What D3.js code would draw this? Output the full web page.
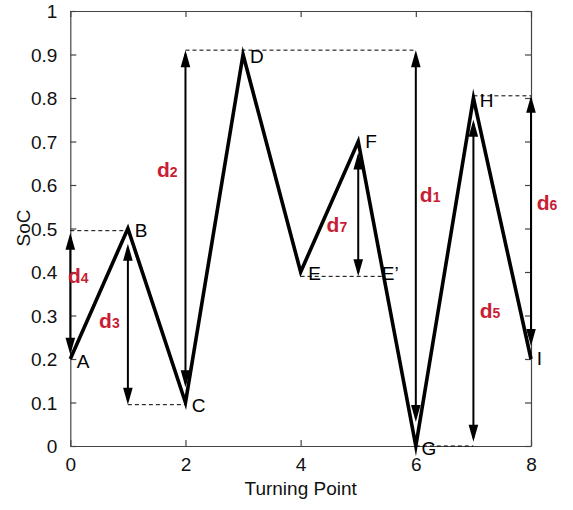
<!DOCTYPE html>
<html><head><meta charset="utf-8">
<script src="https://cdn.jsdelivr.net/npm/d3@7"></script>
<style>body{margin:0;background:#fff}svg{display:block}text{font-family:"Liberation Sans",Arial,sans-serif}</style>
</head><body><svg id="c" width="573" height="510"></svg>
<script>
// Turning points
const tpX = [0, 1, 2, 3, 4, 5, 6, 7, 8];
const soc = [0.2, 0.5, 0.1, 0.9, 0.4, 0.7, 0, 0.8, 0.2];
// Point labels (anchor in data coords)
const ptLabels = ["A", "B", "C", "D", "E", "E\u2019", "F", "G", "H", "I"];
const ptLabelX = [0.11, 1.12, 2.11, 3.12, 4.13, 5.41, 5.12, 6.1, 7.11, 8.1];
const ptLabelY = [0.18, 0.48, 0.078, 0.88, 0.382, 0.382, 0.685, -0.02, 0.78, 0.186];
// Double arrows
const arrowNames = ["1", "2", "3", "4", "5", "6", "7"];
const arrowX = [6, 2, 1, 0, 7, 8, 5];
const arrowTop = [0.91, 0.91, 0.465, 0.49, 0.75, 0.805, 0.675];
const arrowBot = [0.055, 0.135, 0.095, 0.21, 0.01, 0.23, 0.39];
const arrowLabelX = [6.07, 1.505, 0.5, -0.04, 7.11, 8.1, 4.45];
const arrowLabelY = [0.562, 0.618, 0.271, 0.375, 0.294, 0.543, 0.493];
// Dashed guide lines
const dashY = [0.495, 0.095, 0.91, 0.39, 0.805, 0];
const dashX1 = [0, 1, 2, 4, 7, 6];
const dashX2 = [1, 2, 6, 5.44, 8, 7];
// Ticks
const xTicks = [0, 2, 4, 6, 8];
const yTicks = [0, 0.1, 0.2, 0.3, 0.4, 0.5, 0.6, 0.7, 0.8, 0.9, 1];
const yTickLabels = ["0", "0.1", "0.2", "0.3", "0.4", "0.5", "0.6", "0.7", "0.8", "0.9", "1"];

const L = 70.3, R = 531, T = 11, B = 446;
const x = d3.scaleLinear().domain([0, 8]).range([L, R]);
const y = d3.scaleLinear().domain([0, 1]).range([B, T]);
const svg = d3.select("#c");
const axisCol = "#444";
const red = "#c81e35";

// axes with inward ticks
const gB = svg.append("g").attr("transform", `translate(0,${B})`)
  .call(d3.axisBottom(x).tickValues(xTicks).tickSizeInner(-6).tickSizeOuter(0).tickPadding(12).tickFormat(d3.format("d")));
const gT = svg.append("g").attr("transform", `translate(0,${T})`)
  .call(d3.axisTop(x).tickValues(xTicks).tickSizeInner(-6).tickSizeOuter(0).tickFormat(""));
const gL = svg.append("g").attr("transform", `translate(${L},0)`)
  .call(d3.axisLeft(y).tickValues(yTicks).tickSizeInner(-6).tickSizeOuter(0).tickPadding(13).tickFormat((d, i) => yTickLabels[i]));
const gR = svg.append("g").attr("transform", `translate(${R},0)`)
  .call(d3.axisRight(y).tickValues(yTicks).tickSizeInner(-6).tickSizeOuter(0).tickFormat(""));
[gB, gT, gL, gR].forEach(g => {
  g.select(".domain").attr("stroke", axisCol).attr("stroke-width", 1.2);
  g.selectAll(".tick line").attr("stroke", axisCol).attr("stroke-width", 1.2);
  g.selectAll(".tick text").attr("fill", "#111").style("font-size", "19px").style("font-family", '"Liberation Sans",Arial,sans-serif');
});
gB.selectAll(".tick text").attr("dy", "0.71em");
gL.selectAll(".tick text").attr("dy", "0.36em");

// dashed lines
svg.append("g").selectAll("line").data(dashY).join("line")
  .attr("x1", (d, i) => x(dashX1[i])).attr("x2", (d, i) => x(dashX2[i]))
  .attr("y1", d => y(d)).attr("y2", d => y(d))
  .attr("stroke", "#000").attr("stroke-width", 1).attr("stroke-dasharray", "4,3");

// main line
const pts = tpX.map((d, i) => [d, soc[i]]);
svg.append("path").datum(pts)
  .attr("d", d3.line().x(d => x(d[0])).y(d => y(d[1])))
  .attr("fill", "none").attr("stroke", "#000").attr("stroke-width", 3.6)
  .attr("stroke-linejoin", "miter").attr("stroke-miterlimit", 10);

// arrows
const headL = 17, headW = 4.8;
const ag = svg.append("g");
arrowX.forEach((ax, i) => {
  const px = x(ax), yt = y(arrowTop[i]), yb = y(arrowBot[i]);
  ag.append("line").attr("x1", px).attr("x2", px).attr("y1", yt + 4).attr("y2", yb - 4)
    .attr("stroke", "#000").attr("stroke-width", 2);
  ag.append("path").attr("d", `M${px},${yt}L${px - headW},${yt + headL}L${px + headW},${yt + headL}Z`).attr("fill", "#000");
  ag.append("path").attr("d", `M${px},${yb}L${px - headW},${yb - headL}L${px + headW},${yb - headL}Z`).attr("fill", "#000");
});

// point labels
svg.append("g").selectAll("text").data(ptLabels).join("text")
  .attr("x", (d, i) => x(ptLabelX[i])).attr("y", (d, i) => y(ptLabelY[i]))
  .attr("fill", "#000").style("font-size", "19px").text(d => d);

// arrow labels
const lg = svg.append("g");
arrowNames.forEach((n, i) => {
  const t = lg.append("text").attr("x", x(arrowLabelX[i])).attr("y", y(arrowLabelY[i]))
    .attr("fill", red).style("font-weight", "bold").style("font-size", "21px");
  t.append("tspan").text("d");
  t.append("tspan").style("font-size", "14px").text(n);
});

// axis titles
svg.append("text").attr("x", (L + R) / 2).attr("y", 495).attr("text-anchor", "middle")
  .style("font-size", "19px").attr("fill", "#111").text("Turning Point");
svg.append("text").attr("transform", `translate(30,${228}) rotate(-90)`).attr("text-anchor", "middle")
  .style("font-size", "19px").attr("fill", "#111").text("SoC");
</script></body></html>
